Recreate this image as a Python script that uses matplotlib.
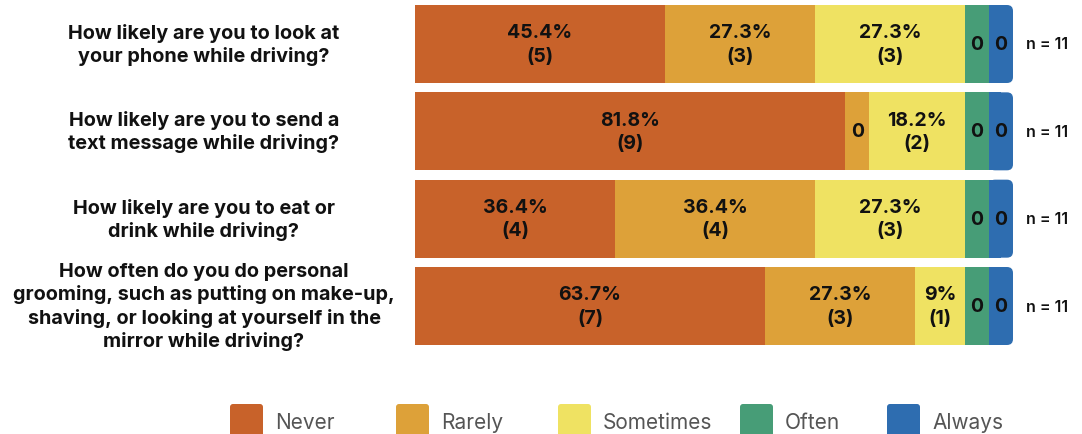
import numpy as np
import matplotlib
matplotlib.use("Agg")
import matplotlib.pyplot as plt
from matplotlib.patches import FancyBboxPatch
from matplotlib.transforms import blended_transform_factory

questions = [
    "How likely are you to look at\nyour phone while driving?",
    "How likely are you to send a\ntext message while driving?",
    "How likely are you to eat or\ndrink while driving?",
    "How often do you do personal\ngrooming, such as putting on make-up,\nshaving, or looking at yourself in the\nmirror while driving?",
]
categories = ["Never", "Rarely", "Sometimes", "Often", "Always"]
colors = ["#C8622A", "#DDA139", "#EFE262", "#479D77", "#2E6DB0"]

counts_never = [5, 9, 4, 7]
counts_rarely = [3, 0, 4, 3]
counts_sometimes = [3, 2, 3, 1]
counts_often = [0, 0, 0, 0]
counts_always = [0, 0, 0, 0]

pct_never = [45.4, 81.8, 36.4, 63.7]
pct_rarely = [27.3, 0, 36.4, 27.3]
pct_sometimes = [27.3, 18.2, 27.3, 9]
pct_often = [0, 0, 0, 0]
pct_always = [0, 0, 0, 0]

n_labels = ["n = 11", "n = 11", "n = 11", "n = 11"]

counts = np.array([counts_never, counts_rarely, counts_sometimes, counts_often, counts_always], float).T
pcts = np.array([pct_never, pct_rarely, pct_sometimes, pct_often, pct_always], float).T

W, H = 1082, 435
fig = plt.figure(figsize=(W / 100, H / 100), dpi=100)
fig.patch.set_facecolor("white")

ax_left, ax_right = 415, 1013
ax_top, ax_bot = 1.33, 350.67
ax = fig.add_axes([ax_left / W, 1 - ax_bot / H, (ax_right - ax_left) / W, (ax_bot - ax_top) / H])
ax.set_xlim(0, 100)
ax.set_ylim(len(questions) - 0.5, -0.5)
ax.axis("off")

ZERO_W = 24 / (ax_right - ax_left) * 100  # display width of a zero segment
BAR_H = 0.893
px_per_x = (ax_right - ax_left) / 100
px_per_y = (ax_bot - ax_top) / len(questions)
radius_x = 6 / px_per_x
aspect = (6 / px_per_y) / radius_x

FONT = "Inter"

for i in range(len(questions)):
    vals = counts[i]
    nz = vals == 0
    remaining = 100 - nz.sum() * ZERO_W
    widths = np.where(nz, ZERO_W, vals / vals.sum() * remaining)
    left = 0.0
    for j, (w, c) in enumerate(zip(widths, colors)):
        if j == len(widths) - 1:
            p = FancyBboxPatch((left, i - BAR_H / 2), w, BAR_H,
                               boxstyle=f"round,pad=0,rounding_size={radius_x}",
                               mutation_aspect=aspect, facecolor=c, edgecolor="none")
            ax.add_patch(p)
            ax.barh(i, w / 2, left=left, height=BAR_H, color=c, edgecolor="none")
        else:
            ax.barh(i, w, left=left, height=BAR_H, color=c, edgecolor="none")
        if vals[j] == 0:
            label = "0"
        else:
            label = f"{pcts[i, j]:g}%\n({int(vals[j])})"
        ax.text(left + w / 2, i, label, ha="center", va="center", fontsize=14,
                fontweight="bold", family=FONT, color="#111111", linespacing=1.38)
        left += w

trans_q = blended_transform_factory(fig.transFigure, ax.transData)
for i, q in enumerate(questions):
    fig.text(204 / W, i, q, transform=trans_q, ha="center", va="center",
             multialignment="center", fontsize=14.3, fontweight="bold",
             family=FONT, color="#111111", linespacing=1.27)
    fig.text(1026 / W, i, n_labels[i], transform=trans_q, ha="left", va="center",
             fontsize=11.5, fontweight="semibold", family=FONT, color="#111111")

# legend
leg_x = [230, 396, 558, 740, 887]
for x, c, name in zip(leg_x, colors, categories):
    p = FancyBboxPatch((x / 100, -0.05), 0.33, 0.35,
                       boxstyle="round,pad=0,rounding_size=0.03",
                       transform=fig.dpi_scale_trans, facecolor=c, edgecolor="none")
    fig.add_artist(p)
    fig.text((x + 45) / W, 6 / H, name, ha="left", va="baseline", fontsize=15,
             family=FONT, color="#555555")

fig.savefig("out.png", dpi=100, facecolor="white")
